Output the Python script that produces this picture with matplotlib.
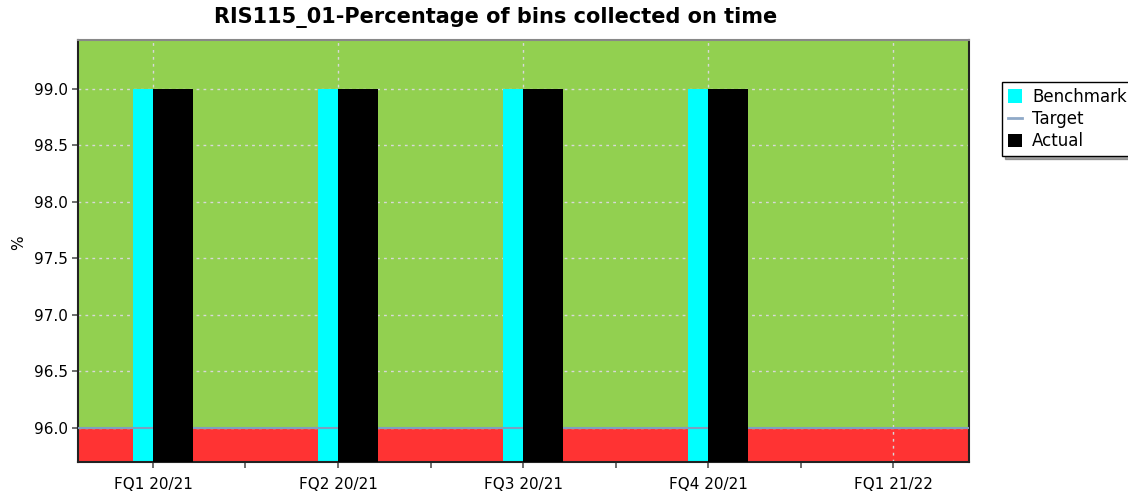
import matplotlib
matplotlib.use("Agg")
import matplotlib.pyplot as plt
import numpy as np
from matplotlib.patches import Patch
from matplotlib.lines import Line2D

quarters = ["FQ1 20/21", "FQ2 20/21", "FQ3 20/21", "FQ4 20/21", "FQ1 21/22"]
benchmark = [99.0, 99.0, 99.0, 99.0]
actual = [99.0, 99.0, 99.0, 99.0]
target = 96.0

plt.rcParams['font.family'] = ['DejaVu Sans']

fig = plt.figure(figsize=(11.28, 4.96), dpi=100)
ax = fig.add_axes([78 / 1128, 1 - 462 / 496, (969 - 78) / 1128, (462 - 40) / 496])

ymin, ymax = 95.70, 99.43
xmin, xmax = -0.405, 4.41
ax.set_xlim(xmin, xmax)
ax.set_ylim(ymin, ymax)

# performance bands: above target green, below red
ax.axhspan(target, ymax, color="#92D050", zorder=0)
ax.axhspan(ymin, target, color="#FF3333", zorder=0)

ax.grid(True, color="#D8D8D8", linestyle=(0, (2, 3)), linewidth=1, zorder=1)

x = np.arange(len(benchmark))
w = 0.216
ax.bar(x, np.array(benchmark) - ymin, w, bottom=ymin, color="#00FFFF", zorder=2)
ax.axhline(target, color="#7F9FBF", linewidth=1.5, zorder=3)
ax.bar(x + w / 2, np.array(actual) - ymin, w, bottom=ymin, color="#000000", zorder=4)

yt = [96.0, 96.5, 97.0, 97.5, 98.0, 98.5, 99.0]
ax.set_xticks(range(len(quarters)))
ax.set_xticklabels(quarters, fontsize=11)
ax.set_xticks(np.arange(0.5, len(quarters) - 1, 1.0), minor=True)
ax.set_yticks(yt)
ax.set_yticklabels([f"{v:.1f}" for v in yt], fontsize=11)
ax.tick_params(axis="both", which="both", color="#555555", length=4, width=1.2)
ax.tick_params(axis="x", which="major", pad=7)

for s in ["left", "bottom", "right"]:
    ax.spines[s].set_color("#222222")
    ax.spines[s].set_linewidth(1.5)
ax.spines["top"].set_color("#888888")
ax.spines["top"].set_linewidth(1.5)

ax.set_ylabel("%", fontsize=11)
ax.yaxis.set_label_coords(-0.058, 0.52)
fig.text(496 / 1128, 1 - 18 / 496, "RIS115_01-Percentage of bins collected on time",
         fontsize=15, fontweight="bold", ha="center", va="center")

handles = [Patch(facecolor="#00FFFF", edgecolor="none", label="Benchmark"),
           Line2D([0], [0], color="#8FA9C8", linewidth=2, label="Target"),
           Patch(facecolor="#000000", edgecolor="none", label="Actual")]
leg = fig.legend(handles=handles, loc="upper left", bbox_to_anchor=(1002 / 1128, 1 - 82 / 496),
                 fontsize=12, frameon=True, fancybox=False, shadow=True,
                 handlelength=0.85, handleheight=0.85, handletextpad=0.6,
                 borderpad=0.35, labelspacing=0.25, borderaxespad=0)
leg.get_frame().set_edgecolor("#000000")
leg.get_frame().set_linewidth(1)

fig.savefig("out.png", dpi=100)
